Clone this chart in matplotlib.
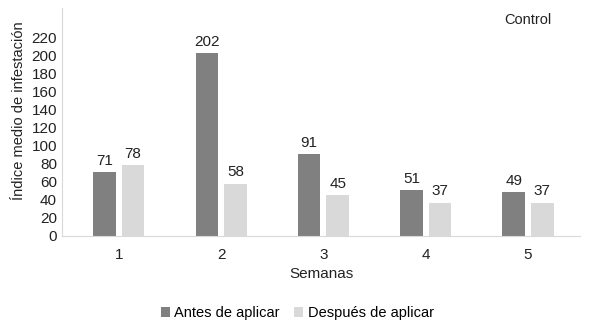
import numpy as np
from matplotlib import pyplot as plt

plt.rcParams['font.family'] = ['Liberation Sans', 'DejaVu Sans']
plt.rcParams['font.size'] = 11

semanas = ['1', '2', '3', '4', '5']
antes = [71, 202, 91, 51, 49]
despues = [78, 58, 45, 37, 37]

oscuro = '#808080'
claro = '#d9d9d9'

fig = plt.figure(figsize=(5.89, 3.30), dpi=100)
ax = fig.add_axes([0.105, 0.285, 0.88, 0.69])

x = np.arange(len(semanas))
w = 0.22
b1 = ax.bar(x - 0.14, antes, w, color=oscuro, label='Antes de aplicar')
b2 = ax.bar(x + 0.14, despues, w, color=claro, label='Después de aplicar')

# Etikete nad stolpci
ax.bar_label(b1, padding=3, fontsize=11, color='#222222')
ax.bar_label(b2, padding=3, fontsize=11, color='#222222')

ax.set_xlim(-0.557, 4.51)
ax.set_ylim(0, 252)
ax.set_yticks(range(0, 221, 20))
ax.set_xticks(x)
ax.set_xticklabels(semanas)
ax.tick_params(length=0, colors='#222222', labelsize=11)
ax.tick_params(axis='x', pad=9)

for s in ['top', 'right']:
    ax.spines[s].set_visible(False)
ax.spines['left'].set_color(claro)
ax.spines['bottom'].set_color(claro)

ax.set_xlabel('Semanas', color='#222222', labelpad=3)
ax.set_ylabel('Índice medio de infestación', color='#222222', fontsize=10.5)
ax.yaxis.set_label_coords(-0.07, 0.55)

ax.text(0.9, 0.95, 'Control', transform=ax.transAxes, ha='center',
        va='center', fontsize=10.5, color='#222222')

fig.legend(loc='lower center', bbox_to_anchor=(0.505, -0.01), ncol=2,
           frameon=False, handlelength=0.6, handleheight=0.6,
           handletextpad=0.3, columnspacing=1.0, fontsize=10.5)

plt.savefig('out.png', dpi=100)
